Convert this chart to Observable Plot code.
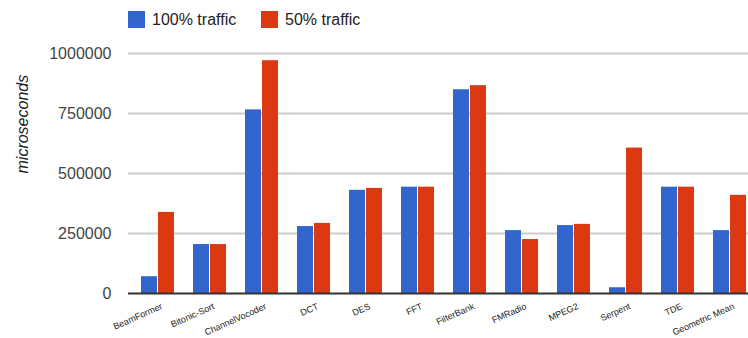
<!DOCTYPE html>
<html>
<head>
<meta charset="utf-8">
<script src="https://cdn.jsdelivr.net/npm/d3@7"></script>
<script src="https://cdn.jsdelivr.net/npm/@observablehq/plot@0.6"></script>
<style>
  html, body { margin: 0; padding: 0; background: #fff; overflow: hidden; }
  #wrap { position: relative; width: 748px; height: 338px; overflow: hidden; font-family: "Liberation Sans", Arial, sans-serif; }
  #legend { position: absolute; left: 0; top: 0; height: 40px; width: 748px; }
  .item { position: absolute; top: 11px; height: 17px; display: flex; align-items: center; font-size: 16px; color: #222; white-space: nowrap; }
  .swatch { width: 17px; height: 17px; margin-right: 7px; flex: none; }
</style>
</head>
<body>
<div id="wrap"><div id="legend"></div></div>
<script>
// Benchmarks and their run times (microseconds)
const categories = ["BeamFormer", "Bitonic-Sort", "ChannelVocoder", "DCT", "DES", "FFT", "FilterBank", "FMRadio", "MPEG2", "Serpent", "TDE", "Geometric Mean"];
const traffic100 = [70000, 204000, 765000, 279000, 430000, 443000, 849000, 262000, 283000, 24000, 443000, 262000];
const traffic50 = [338000, 204000, 970000, 292000, 438000, 443000, 866000, 225000, 288000, 606000, 443000, 409000];
const seriesNames = ["100% traffic", "50% traffic"];
const seriesColors = ["#3366cc", "#dc3912"];
const yTicks = [0, 250000, 500000, 750000, 1000000];
const yLabel = "microseconds";

const rows = categories.map((c, i) => ({category: c, full: traffic100[i], half: traffic50[i]}));

const chart = Plot.plot({
  width: 758,
  height: 338,
  marginLeft: 128,
  marginRight: 0,
  marginTop: 53,
  marginBottom: 45,
  style: {fontFamily: "'Liberation Sans', Arial, sans-serif", maxWidth: "none", background: "transparent"},
  x: {domain: categories, paddingInner: 0.3708, paddingOuter: 0.1854, axis: null},
  y: {domain: [0, 1000000], axis: null},
  marks: [
    Plot.ruleY(yTicks.filter(d => d > 0), {y: d => d, stroke: "#cccccc", strokeWidth: 2}),
    Plot.barY(rows, {x: "category", y: "full", fill: seriesColors[0], insetLeft: 0, insetRight: 17}),
    Plot.barY(rows, {x: "category", y: "half", fill: seriesColors[1], insetLeft: 17, insetRight: 0}),
    Plot.ruleY([0], {stroke: "#333333", strokeWidth: 2}),
    Plot.text(yTicks, {y: d => d, text: d => String(d), frameAnchor: "left", dx: -17, textAnchor: "end", fontSize: 16, fill: "#444444"}),
    Plot.text(categories, {x: d => d, text: d => d, frameAnchor: "bottom", dx: 5, dy: 15, rotate: -24, textAnchor: "end", lineAnchor: "bottom", fontSize: 9, fill: "#222222"}),
    Plot.text([yLabel], {text: d => d, frameAnchor: "left", dx: -106, rotate: -90, fontSize: 16, fontStyle: "italic", fill: "#222222"})
  ]
});

const wrap = document.getElementById("wrap");
wrap.insertBefore(chart, wrap.firstChild);

// Legend swatches above the plot area
const legend = document.getElementById("legend");
const legendLeft = [128, 261];
seriesNames.forEach((name, i) => {
  const item = document.createElement("div");
  item.className = "item";
  item.style.left = legendLeft[i] + "px";
  const sw = document.createElement("span");
  sw.className = "swatch";
  sw.style.background = seriesColors[i];
  const label = document.createElement("span");
  label.textContent = name;
  item.appendChild(sw);
  item.appendChild(label);
  legend.appendChild(item);
});
</script>
</body>
</html>
